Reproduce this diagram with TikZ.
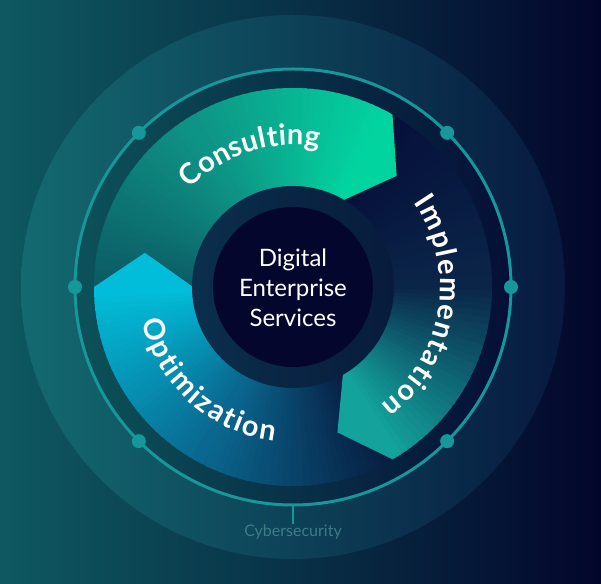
\documentclass[tikz,border=0pt]{standalone}
\usepackage{fontspec}
\setmainfont{Lato}
\usetikzlibrary{decorations.text}
\definecolor{bgL}{HTML}{0E5961}
\definecolor{bgM}{HTML}{072846}
\definecolor{bgR}{HTML}{03062B}
\definecolor{odL}{HTML}{136A70}
\definecolor{odM}{HTML}{0A3D55}
\definecolor{odR}{HTML}{07193F}
\definecolor{idL}{HTML}{0C525A}
\definecolor{idM}{HTML}{082E4A}
\definecolor{idR}{HTML}{050F36}
\definecolor{ringc}{HTML}{16979A}
\definecolor{crL}{HTML}{0A2F4C}
\definecolor{crR}{HTML}{081B3D}
\definecolor{coreC}{HTML}{04062E}
\definecolor{cybC}{HTML}{3D7C86}
% Consulting
\definecolor{cT}{HTML}{0C5A64}
\definecolor{cM}{HTML}{0E9486}
\definecolor{cH}{HTML}{02D4A0}
% Implementation
\definecolor{iT}{HTML}{06103A}
\definecolor{iM}{HTML}{0A2548}
\definecolor{iH}{HTML}{13A29C}
% Optimization
\definecolor{oT}{HTML}{081C40}
\definecolor{oM}{HTML}{0A6890}
\definecolor{oH}{HTML}{02BDD9}
\newcommand\ringseg[5]{%
  \foreach \i in {0,...,59}{%
    \pgfmathsetmacro\ta{#1+(#2-#1)*(\i-0.5)/60}%
    \pgfmathsetmacro\tb{#1+(#2-#1)*(\i+1)/60}%
    \pgfmathsetmacro\pc{\i<30 ? 100*\i/29 : 100*(\i-30)/29}%
    \ifnum\i<30 \colorlet{wc}{#4!\pc!#3}\else\colorlet{wc}{#5!\pc!#4}\fi
    \fill[wc] (\ta:199pt) arc[start angle=\ta,end angle=\tb,radius=199pt]
      -- (\tb:100pt) arc[start angle=\tb,end angle=\ta,radius=100pt] -- cycle;
  }}
\newcommand\segtip[3]{% head angle, colour, back direction (+1/-1)
  \fill[#2] (#1+#3*2:199pt) arc[start angle=#1+#3*2, end angle=#1, radius=199pt]
    -- (#1-#3*13:152pt) -- (#1:100pt)
    arc[start angle=#1, end angle=#1+#3*2, radius=100pt] -- cycle;}
\newcommand\segfont{\fontsize{29}{29}\selectfont\bfseries}
\begin{document}
\begin{tikzpicture}[x=1pt,y=1pt]
\useasboundingbox (0,0) rectangle (601,583);
\shade[left color=bgL, middle color=bgM, right color=bgR] (0,0) rectangle (601,583);
\begin{scope}[shift={(293pt,296pt)}]
\coordinate (C) at (0,0);
\shade[left color=odL, middle color=odM, right color=odR] (C) circle (272pt);
\shade[left color=idL, middle color=idM, right color=idR] (C) circle (217pt);
% segments
\ringseg{180}{60}{cT}{cM}{cH}
\ringseg{60}{-60}{iT}{iM}{iH}
\ringseg{300}{180}{oT}{oM}{oH}
\segtip{60}{cH}{1}
\segtip{-60}{iH}{1}
\segtip{180}{oH}{1}
% labels along arcs
\path[decoration={text along path, text color=white, text align=center,
  text={|\segfont|{C\kern0.3pt}{o\kern0.3pt}{n\kern0.3pt}{s\kern0.3pt}{u\kern0.3pt}{l\kern0.3pt}{t\kern0.3pt}{i\kern0.3pt}{n\kern0.3pt}g}}, decorate]
  (168:142pt) arc[start angle=168, end angle=48, radius=142pt];
\path[decoration={text along path, text color=white, text align=center,
  text={|\segfont|{I\kern1.7pt}{m\kern1.7pt}{p\kern1.7pt}{l\kern1.7pt}{e\kern1.7pt}{m\kern1.7pt}{e\kern1.7pt}{n\kern1.7pt}{t\kern1.7pt}{a\kern1.7pt}{t\kern1.7pt}{i\kern1.7pt}{o\kern1.7pt}n}}, decorate]
  (66:147pt) arc[start angle=66, end angle=-84, radius=147pt];
\path[decoration={text along path, text color=white, text align=center,
  text={|\segfont|{O\kern2pt}{p\kern2pt}{t\kern2pt}{i\kern2pt}{m\kern2pt}{i\kern2pt}{z\kern2pt}{a\kern2pt}{t\kern2pt}{i\kern2pt}{o\kern2pt}n}}, decorate]
  (168:155pt) arc[start angle=168, end angle=288, radius=155pt];
% core
\shade[left color=crL, right color=crR] (C) circle (101pt);
\fill[coreC] (C) circle (80pt);
\node[text=white, align=center, font=\fontsize{24}{30}\selectfont] (core) at (0,-1) {Digital\\Enterprise\\Services};
% ring
\draw[ringc, line width=3pt] (C) circle (218pt);
\foreach \a in {0,45,135,180,225,315}{\fill[ringc] (\a:218pt) circle (7pt);}
\coordinate (rb) at (270:218pt);
\node[text=cybC, font=\fontsize{16}{16}\selectfont, anchor=north, inner sep=1pt] (cyb) at (0,-237) {Cybersecurity};
\draw[ringc, line width=1.2pt] (rb) -- (cyb.north);
\end{scope}
\end{tikzpicture}
\end{document}
